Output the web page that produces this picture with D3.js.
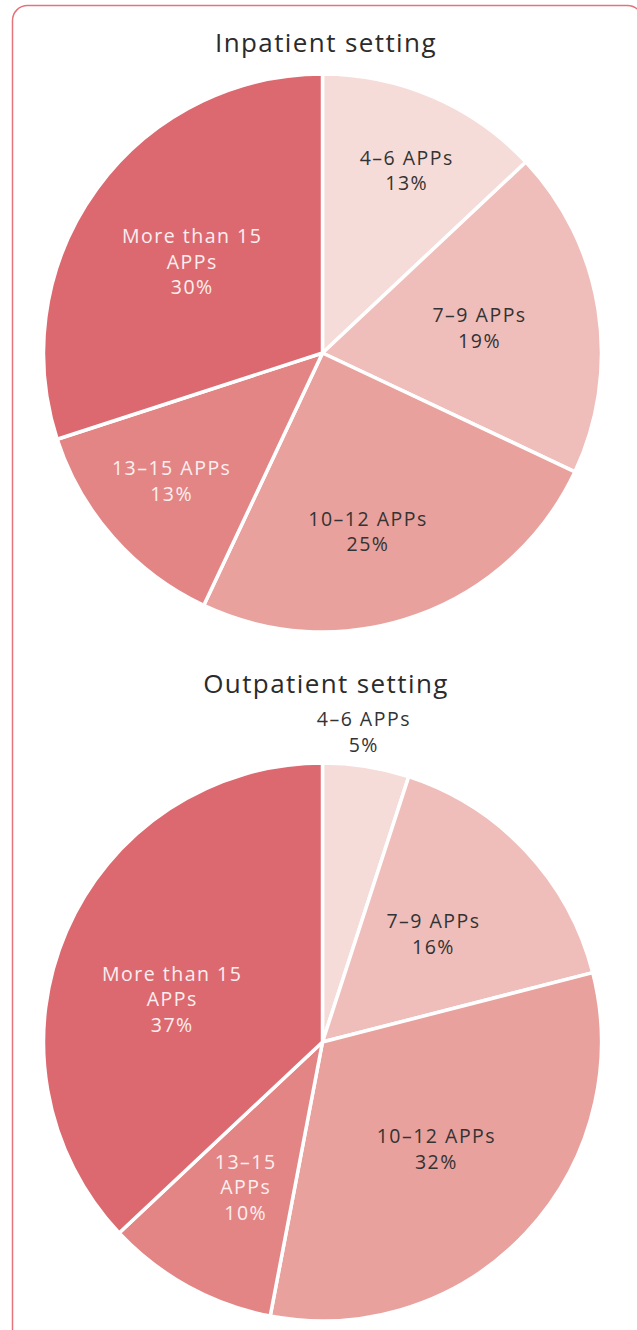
<!DOCTYPE html>
<html>
<head>
<meta charset="utf-8">
<script src="https://cdn.jsdelivr.net/npm/d3@7"></script>
<style>
  html, body { margin: 0; padding: 0; background: #ffffff; }
  svg { display: block; }
  text { font-family: "Open Sans", "DejaVu Sans", sans-serif; }
</style>
</head>
<body>
<svg id="chart" width="637" height="1330"></svg>
<script>
// ---- data ----
const categories = ["4–6 APPs", "7–9 APPs", "10–12 APPs", "13–15 APPs", "More than 15 APPs"];
const inpatientValues = [13, 19, 25, 13, 30];
const outpatientValues = [5, 16, 32, 10, 37];
const chartTitles = ["Inpatient setting", "Outpatient setting"];

// ---- styling / layout ----
const sliceColors = ["#f6dcd8", "#efbdba", "#e8a19d", "#e38585", "#dc6970"];
const labelColors = ["#333333", "#333333", "#333333", "#fcefef", "#fcefef"];
const radius = 279;
const charts = [
  { title: chartTitles[0], values: inpatientValues, cy: 353, titleY: 52,
    labelR: [0.72, 0.57, 0.66, 0.71, 0.57], labelShiftDeg: [1.4, 0, 5.5, 1, -1],
    wrap: [12, 12, 12, 12, 12] },
  { title: chartTitles[1], values: outpatientValues, cy: 1042, titleY: 693,
    labelR: [1.12, 0.555, 0.56, 0.59, 0.56], labelShiftDeg: [-1.4, -1, 0, -1, -7.5],
    wrap: [12, 12, 12, 6, 12] }
];
const cx = 322.5;
const lineH = 25.5;

const svg = d3.select("#chart");

svg.append("rect")
  .attr("x", 12.5).attr("y", 5.5)
  .attr("width", 630).attr("height", 1340)
  .attr("rx", 15).attr("ry", 15)
  .attr("fill", "none")
  .attr("stroke", "#e5737b")
  .attr("stroke-width", 1.5);

function wrapWords(str, maxChars) {
  const words = str.split(" ");
  const lines = [];
  let cur = "";
  words.forEach(w => {
    const test = cur ? cur + " " + w : w;
    if (test.length > maxChars && cur) { lines.push(cur); cur = w; }
    else cur = test;
  });
  if (cur) lines.push(cur);
  return lines;
}

const pie = d3.pie().sort(null).value(d => d.value).startAngle(0).endAngle(2 * Math.PI);
const arc = d3.arc().innerRadius(0).outerRadius(radius);

charts.forEach(ch => {
  const data = categories.map((c, i) => ({ cat: c, value: ch.values[i], i }));
  const arcs = pie(data);

  svg.append("text")
    .attr("x", 326).attr("y", ch.titleY)
    .attr("text-anchor", "middle")
    .attr("font-size", 26)
    .attr("letter-spacing", 1.4)
    .attr("fill", "#2b2b2b")
    .text(ch.title);

  const g = svg.append("g").attr("transform", `translate(${cx},${ch.cy})`);

  g.selectAll("path.slice")
    .data(arcs)
    .join("path")
    .attr("class", "slice")
    .attr("d", arc)
    .attr("fill", d => sliceColors[d.data.i])
    .attr("stroke", "#ffffff")
    .attr("stroke-width", 3.5)
    .attr("stroke-linejoin", "round");

  arcs.forEach(d => {
    const i = d.data.i;
    const lr = radius * ch.labelR[i];
    const mid = (d.startAngle + d.endAngle) / 2 + ch.labelShiftDeg[i] * Math.PI / 180;
    const la = d3.arc().innerRadius(lr).outerRadius(lr);
    const [x, y] = la.centroid({ startAngle: mid, endAngle: mid });
    const lines = wrapWords(d.data.cat, ch.wrap[i]).concat([d.data.value + "%"]);
    const n = lines.length;
    const t = g.append("text")
      .attr("text-anchor", "middle")
      .attr("font-size", 19.5)
      .attr("letter-spacing", 1.5)
      .attr("fill", ch.labelR[i] > 1 ? "#333333" : labelColors[i]);
    lines.forEach((ln, k) => {
      t.append("tspan")
        .attr("x", x)
        .attr("y", y + (k - (n - 1) / 2) * lineH)
        .attr("dy", "0.35em")
        .text(ln);
    });
  });
});
</script>
</body>
</html>
